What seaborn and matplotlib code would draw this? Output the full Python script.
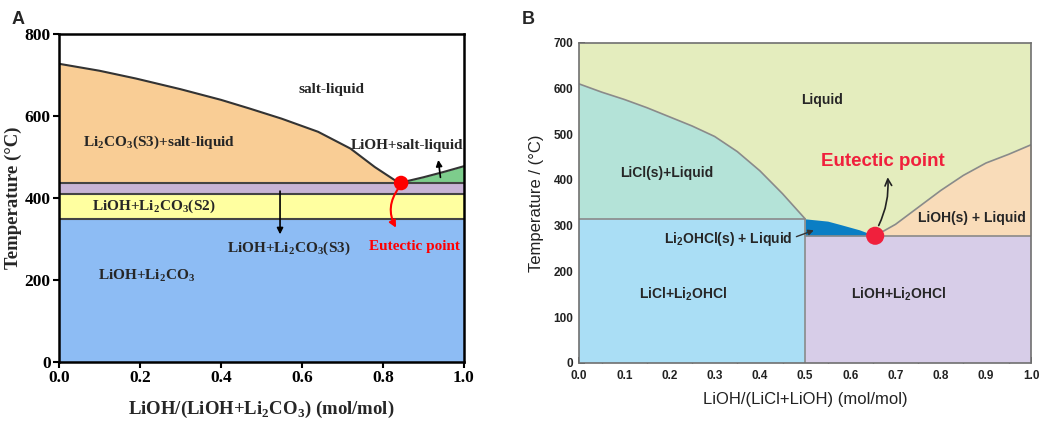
import numpy as np
import pandas as pd
import matplotlib.pyplot as plt
import seaborn as sns
from matplotlib.ticker import MultipleLocator

# ---- Panel A data: LiOH / Li2CO3 ----
a_liq_x = [0.0, 0.1, 0.19, 0.3, 0.4, 0.47, 0.55, 0.64, 0.72, 0.78, 0.84]
a_liq_y = [728, 711, 692, 666, 640, 619, 594, 562, 521, 476, 437]
a_lioh_x = [0.84, 0.9, 0.95, 1.0]
a_lioh_y = [437, 451, 464, 478]
a_eutectic = (0.845, 437)
a_levels = [437, 410, 350]   # S3 eutectic line, S2/S3 transition, lower solid

# ---- Panel B data: LiCl / LiOH ----
b_licl_x = [0.0, 0.05, 0.1, 0.15, 0.2, 0.25, 0.3, 0.35, 0.4, 0.45, 0.5]
b_licl_y = [610, 592, 576, 558, 538, 518, 495, 462, 420, 370, 315]
b_oh_x = [0.5, 0.55, 0.58, 0.62, 0.655]
b_oh_y = [315, 310, 302, 291, 278]
b_lioh_x = [0.655, 0.7, 0.75, 0.8, 0.85, 0.9, 0.95, 1.0]
b_lioh_y = [278, 303, 340, 377, 410, 437, 456, 477]
b_eutectic = (0.655, 278)
b_peritectic = 315
b_solidus = 278

sns.set_style('ticks')
plt.rcParams['mathtext.fontset'] = 'custom'
plt.rcParams['mathtext.bf'] = 'Liberation Serif:bold'
plt.rcParams['mathtext.sf'] = 'Liberation Sans:bold'
plt.rcParams['mathtext.rm'] = 'Liberation Sans'

fig = plt.figure(figsize=(10.49, 4.23), dpi=100)
axA = fig.add_axes([0.0562, 0.144, 0.386, 0.775])
axB = fig.add_axes([0.552, 0.142, 0.431, 0.757])

serif = dict(family=['Liberation Serif', 'DejaVu Serif'], weight='bold')
sans = dict(family=['Liberation Sans', 'DejaVu Sans'])

# ================= Panel A =================
ax = axA
ax.fill_between(a_liq_x, a_levels[0], a_liq_y, color='#F9CD95', lw=0)
ax.fill_between(a_lioh_x, a_levels[0], a_lioh_y, color='#7DCD8C', lw=0)
ax.fill_between([0, 1], a_levels[1], a_levels[0], color='#C8B4D6', lw=0)
ax.fill_between([0, 1], a_levels[2], a_levels[1], color='#FFFFA0', lw=0)
ax.fill_between([0, 1], 0, a_levels[2], color='#8DBCF4', lw=0)

lines_a = pd.DataFrame({'x': a_liq_x, 'y': a_liq_y})
sns.lineplot(data=lines_a, x='x', y='y', ax=ax, color='#333333', lw=1.5, sort=False)
sns.lineplot(x=a_lioh_x, y=a_lioh_y, ax=ax, color='#333333', lw=1.5)
for lv in a_levels:
    ax.axhline(lv, color='#444444', lw=1.5)
sns.scatterplot(x=[a_eutectic[0]], y=[a_eutectic[1]], ax=ax, color='#FF0000',
                s=110, edgecolor='none', zorder=5)

ax.text(0.674, 666, 'salt-liquid', ha='center', va='center', fontsize=11, **serif)
ax.text(0.247, 537, 'Li$_\\mathbf{2}$CO$_\\mathbf{3}$(S3)+salt-liquid',
        ha='center', va='center', fontsize=11, **serif)
ax.text(0.86, 529, 'LiOH+salt-liquid', ha='center', va='center', fontsize=11, **serif)
ax.text(0.233, 380, 'LiOH+Li$_\\mathbf{2}$CO$_\\mathbf{3}$(S2)',
        ha='center', va='center', fontsize=11, **serif)
ax.text(0.567, 278, 'LiOH+Li$_\\mathbf{2}$CO$_\\mathbf{3}$(S3)',
        ha='center', va='center', fontsize=11, **serif)
ax.text(0.217, 210, 'LiOH+Li$_\\mathbf{2}$CO$_\\mathbf{3}$',
        ha='center', va='center', fontsize=11, **serif)
ax.text(0.879, 283, 'Eutectic point', ha='center', va='center', fontsize=11,
        color='#FF0000', **serif)

ax.annotate('', xy=(0.546, 305), xytext=(0.546, 424),
            arrowprops=dict(arrowstyle='-|>', color='black', lw=1.2,
                            mutation_scale=9))
ax.annotate('', xy=(0.936, 500), xytext=(0.943, 444),
            arrowprops=dict(arrowstyle='-|>', color='black', lw=1.2,
                            mutation_scale=9))
ax.annotate('', xy=(0.836, 322), xytext=(0.843, 430),
            arrowprops=dict(arrowstyle='-|>', color='#FF0000', lw=1.5,
                            mutation_scale=10,
                            connectionstyle='arc3,rad=0.35'))

ax.set_xlim(0, 1)
ax.set_ylim(0, 800)
ax.yaxis.set_major_locator(MultipleLocator(200))
ax.set_xticks([0, 0.2, 0.4, 0.6, 0.8, 1.0])
ax.set_xticklabels(['0.0', '0.2', '0.4', '0.6', '0.8', '1.0'])
ax.tick_params(direction='out', length=4, width=1.5, colors='black', labelsize=12.5, pad=2)
for lab in ax.get_xticklabels() + ax.get_yticklabels():
    lab.set_fontfamily(serif['family'])
    lab.set_fontweight('bold')
for sp in ax.spines.values():
    sp.set_linewidth(1.8)
    sp.set_color('black')
ax.set_xlabel('LiOH/(LiOH+Li$_\\mathbf{2}$CO$_\\mathbf{3}$) (mol/mol)',
              fontsize=13.5, labelpad=9, **serif)
ax.set_ylabel('Temperature (\u00b0C)', fontsize=13.5, labelpad=2, **serif)

# ================= Panel B =================
ax = axB
ax.fill_between([0, 1], 0, 700, color='#E4EDBE', lw=0)
ax.fill_between(b_licl_x, b_peritectic, b_licl_y, color='#B4E3D8', lw=0)
ax.fill_between([0, 0.5], 0, b_peritectic, color='#AADEF5', lw=0)
ax.fill_between([0.5, 1], 0, b_solidus, color='#D7CDE8', lw=0)
ax.fill_between(b_oh_x, b_solidus, b_oh_y, color='#0A7EC4', lw=0)
ax.fill_between(b_lioh_x, b_solidus, b_lioh_y, color='#F9DCB9', lw=0)

gray = '#8A8A8A'
sns.lineplot(x=b_licl_x, y=b_licl_y, ax=ax, color=gray, lw=1.2)
sns.lineplot(x=b_lioh_x, y=b_lioh_y, ax=ax, color=gray, lw=1.2)
ax.plot([0, 0.5], [b_peritectic, b_peritectic], color=gray, lw=1.2)
ax.plot([0.5, 1], [b_solidus, b_solidus], color=gray, lw=1.2)
ax.plot([0.5, 0.5], [0, b_peritectic], color=gray, lw=1.2)
sns.scatterplot(x=[b_eutectic[0]], y=[b_eutectic[1]], ax=ax, color='#F0203C',
                s=170, edgecolor='none', zorder=5)

bold_sans = dict(sans, weight='bold')
dark = '#262626'
ax.text(0.537, 575, 'Liquid', ha='center', va='center', fontsize=10, color=dark, **bold_sans)
ax.text(0.195, 415, 'LiCl(s)+Liquid', ha='center', va='center', fontsize=10, color=dark, **bold_sans)
ax.text(0.869, 317, 'LiOH(s) + Liquid', ha='center', va='center', fontsize=10, color=dark, **bold_sans)
ax.text(0.33, 271, 'Li$_\\mathsf{2}$OHCl(s) + Liquid', ha='center', va='center', fontsize=10, color=dark, **bold_sans)
ax.text(0.23, 149, 'LiCl+Li$_\\mathsf{2}$OHCl', ha='center', va='center', fontsize=10, color=dark, **bold_sans)
ax.text(0.706, 149, 'LiOH+Li$_\\mathsf{2}$OHCl', ha='center', va='center', fontsize=10, color=dark, **bold_sans)
ax.text(0.673, 440, 'Eutectic point', ha='center', va='center', fontsize=13.5, color='#F0203C', **bold_sans)

ax.annotate('', xy=(0.525, 292), xytext=(0.475, 274),
            arrowprops=dict(arrowstyle='-|>', color='#333333', lw=1.0,
                            mutation_scale=8))
ax.annotate('', xy=(0.682, 412), xytext=(0.66, 295),
            arrowprops=dict(arrowstyle='->', color='#222222', lw=1.2,
                            mutation_scale=12,
                            connectionstyle='arc3,rad=0.15'))

ax.set_xlim(0, 1)
ax.set_ylim(0, 700)
ax.xaxis.set_minor_locator(MultipleLocator(0.05))
ax.yaxis.set_major_locator(MultipleLocator(100))
ax.yaxis.set_minor_locator(MultipleLocator(50))
ax.set_xticks(np.round(np.arange(0, 1.01, 0.1), 1))
ax.set_xticklabels(['%.1f' % v for v in np.arange(0, 1.01, 0.1)])
ax.tick_params(which='both', direction='in', color='#333333', labelsize=8.5)
ax.tick_params(axis='x', pad=5)
ax.tick_params(axis='y', pad=4)
ax.tick_params(which='major', length=4, width=1.2)
ax.tick_params(which='minor', length=2.5, width=1.0)
for lab in ax.get_xticklabels() + ax.get_yticklabels():
    lab.set_fontfamily(sans['family'])
    lab.set_fontweight('bold')
    lab.set_color('#222222')
for sp in ax.spines.values():
    sp.set_linewidth(1.2)
    sp.set_color('#707070')
ax.set_xlabel('LiOH/(LiCl+LiOH) (mol/mol)', fontsize=12, labelpad=7, color='#222222', **sans)
ax.set_ylabel('Temperature / (\u00b0C)', fontsize=12, labelpad=7, color='#222222', **sans)

# panel letters
fig.text(0.011, 0.975, 'A', fontsize=13, va='top', ha='left',
         family=['Liberation Sans', 'DejaVu Sans'], weight='bold')
fig.text(0.497, 0.975, 'B', fontsize=13, va='top', ha='left',
         family=['Liberation Sans', 'DejaVu Sans'], weight='bold')

fig.savefig('out.png', dpi=100)
plt.close(fig)
